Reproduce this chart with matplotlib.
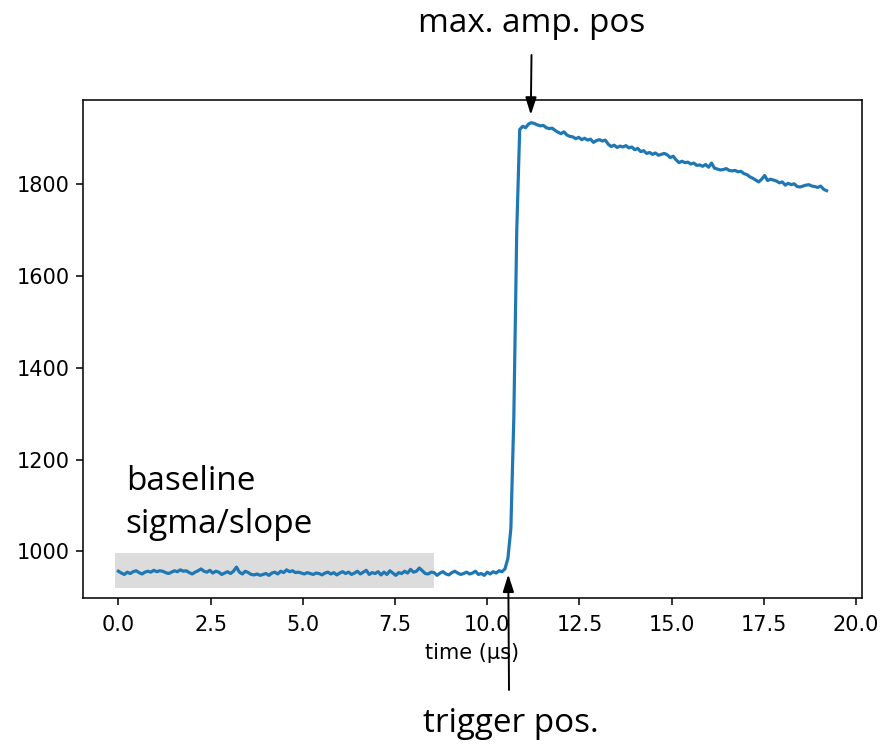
import numpy as np
import matplotlib
matplotlib.use("Agg")
import matplotlib.pyplot as plt
from matplotlib.patches import Rectangle

# ---- data (ADC samples, 0.08 us sampling) ----
sample_period_us = 0.08
baseline_part = [
    957, 953, 950, 955, 952, 956, 958, 954, 951, 955,
    957, 955, 959, 956, 958, 957, 954, 952, 955, 958,
    956, 960, 957, 958, 954, 951, 955, 958, 962, 957,
    955, 959, 953, 957, 955, 950, 953, 956, 952, 957,
    966, 955, 951, 957, 954, 950, 949, 951, 948, 950,
    952, 948, 953, 955, 951, 957, 954, 960, 956, 958,
    954, 955, 953, 951, 954, 952, 950, 953, 952, 949,
    953, 955, 951, 954, 949, 953, 956, 952, 955, 950,
    953, 957, 951, 955, 959, 950, 954, 952, 956, 949,
    955, 950, 958, 953, 948, 954, 952, 957, 953, 961,
    955, 957, 964, 958, 952, 951, 955, 954, 948, 953,
    956, 951, 949, 954, 957, 953, 950, 952, 955, 951,
    953, 957, 950, 952, 948, 955, 951, 956, 953, 958,
    956,
]
rise_part = [962, 985, 1050, 1290, 1700, 1918, 1925, 1922, 1930, 1933, 1931]
decay_part = [
    1928, 1926, 1927, 1922, 1920, 1921, 1916, 1912, 1909, 1913,
    1906, 1903, 1902, 1898, 1901, 1896, 1899, 1895, 1897, 1890,
    1894, 1896, 1893, 1895, 1886, 1881, 1884, 1879, 1882, 1880,
    1883, 1878, 1880, 1874, 1877, 1870, 1872, 1866, 1868, 1864,
    1867, 1862, 1864, 1866, 1863, 1857, 1860, 1852, 1846, 1849,
    1846, 1847, 1843, 1845, 1840, 1841, 1838, 1842, 1836, 1845,
    1834, 1832, 1830, 1831, 1833, 1829, 1828, 1829, 1826, 1827,
    1822, 1820, 1815, 1812, 1808, 1804, 1810, 1818, 1807, 1810,
    1808, 1806, 1802, 1804, 1797, 1801, 1798, 1800, 1794, 1793,
    1795, 1797, 1798, 1795, 1794, 1792, 1795, 1788, 1785,
]
adc = np.array(baseline_part + rise_part + decay_part, dtype=float)
time_us = np.arange(len(adc)) * sample_period_us

baseline_window = (-0.08, 8.56)
baseline_band = (920, 997)
trigger_pos = (10.57, 950)
max_amp_pos = (11.18, 1950)

# ---- style ----
S = 1.39
plt.rcParams.update({
    "font.size": 15,
    "axes.linewidth": 0.8 * S,
    "xtick.major.size": 3.5 * S, "ytick.major.size": 3.5 * S,
    "xtick.major.width": 0.8 * S, "ytick.major.width": 0.8 * S,
    "xtick.major.pad": 7.5, "ytick.major.pad": 3.5 * S,
    "axes.labelpad": 4 * S,
})
ann_font = dict(family=["Open Sans", "DejaVu Sans"], size=17.2 * S)

fig = plt.figure(figsize=(8.82, 7.46), dpi=100)
W, H = 882, 746
ax = fig.add_axes([83 / W, 1 - 598 / H, (862 - 83) / W, (598 - 100) / H])

ax.plot(time_us, adc, color="#1f77b4", lw=1.65 * S, zorder=2)
xl, yl = ax.get_xlim(), ax.get_ylim()
ax.add_patch(Rectangle((baseline_window[0], baseline_band[0]),
                       baseline_window[1] - baseline_window[0],
                       baseline_band[1] - baseline_band[0],
                       facecolor="#dcdcdc", edgecolor="none", zorder=1))
ax.set_xlim(xl)
ax.set_ylim(yl)
ax.set_xlabel("time (μs)")

ax.text(0.2, 1022, "baseline\nsigma/slope", ha="left", va="bottom",
        linespacing=1.42, **ann_font)

arrow = dict(arrowstyle="-|>,head_length=0.5,head_width=0.16", color="black",
             lw=1.0 * S, shrinkA=0, shrinkB=0, mutation_scale=15 * S)
ax.annotate("", xy=max_amp_pos, xycoords="data",
            xytext=(531.5, H - 55), textcoords="figure pixels",
            arrowprops=arrow, annotation_clip=False)
ax.annotate("", xy=trigger_pos, xycoords="data",
            xytext=(509, H - 690), textcoords="figure pixels",
            arrowprops=arrow, annotation_clip=False)
fig.text(532 / W, 1 - 24 / H, "max. amp. pos", ha="center", va="center", **ann_font)
fig.text(511 / W, 1 - 724 / H, "trigger pos.", ha="center", va="center", **ann_font)

fig.savefig("out.png", dpi=100)
